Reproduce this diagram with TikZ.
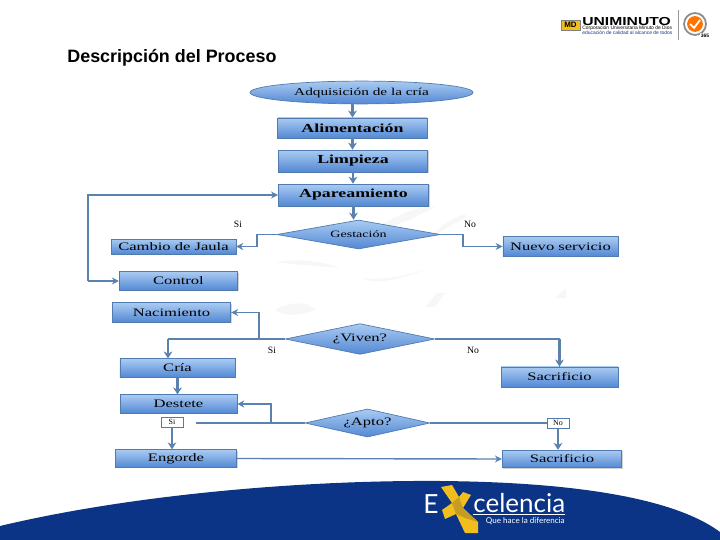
\documentclass[tikz,border=0pt]{standalone}
\usepackage{fontspec}
\setmainfont{Liberation Serif}
\newfontfamily\titlefont{Liberation Sans}
\newfontfamily\logowide[FakeStretch=1.35]{Liberation Sans}
\newfontfamily\widefont[FakeStretch=1.45]{Liberation Serif}
\newfontfamily\logofont{Lato}
\usetikzlibrary{arrows.meta, shapes.geometric, shadows}
\definecolor{boxtop}{HTML}{A9CBF2}
\definecolor{boxbot}{HTML}{5388D4}
\definecolor{boxline}{HTML}{4F7BAE}
\definecolor{flowline}{HTML}{5B82AE}
\definecolor{bandblue}{HTML}{0B3486}
\definecolor{logogold}{HTML}{F2BE1E}
\definecolor{logodark}{HTML}{C79C22}
\begin{document}
\begin{tikzpicture}[
		x=0.02cm, y=-0.02cm,
		b/.style = {rectangle,	draw=boxline,	top color=boxtop,	bottom color=boxbot,	thin, inner sep=0pt, drop shadow={shadow xshift=0.6pt, shadow yshift=-0.6pt, opacity=0.35}},
		d/.style = {diamond,	draw=boxline,	top color=boxtop,	bottom color=boxbot,	thin, inner sep=0pt, aspect=4},
		e/.style = {ellipse,	draw=boxline,	top color=boxtop,	bottom color=boxbot,	thin, inner sep=0pt},
		l/.style = {font=\widefont\fontsize{6.5}{7}\selectfont, inner sep=0pt},
		lb/.style = {font=\widefont\bfseries\fontsize{7}{8}\selectfont, inner sep=0pt},
		t/.style = {rectangle,	draw=boxline,	fill=white,	thin, inner sep=0pt, minimum width=12.5, minimum height=5.6},
		w/.style = {fill=black!3, draw=none},
		r/.style = {-{Stealth[length=4pt, width=4pt]}, draw=flowline, line width=0.8pt},
		p/.style = {draw=flowline, line width=0.8pt},
		s/.style = {-{Stealth[length=4pt, width=5pt]}, draw=flowline, line width=1.6pt},
		q/.style = {draw=flowline, line width=1.6pt}
		]
		\useasboundingbox (0, 0) rectangle (720, 540);
		
		%Watermark
		\fill[w]	(370, 232) .. controls (395, 215) and (420, 205) .. (435, 207) .. controls (420, 215) and (395, 228) .. (370, 232);
		\fill[w]	(430, 240) .. controls (450, 222) and (480, 215) .. (462, 215) .. controls (450, 220) and (435, 228) .. (430, 240);
		\fill[w]	(275, 262) .. controls (300, 258) and (325, 262) .. (340, 268) .. controls (320, 266) and (295, 265) .. (275, 262);
		\fill[w]	(362, 278) .. controls (375, 285) and (400, 280) .. (430, 268) .. controls (400, 278) and (380, 280) .. (362, 278);
		\fill[w]	(425, 307) -- (437, 293) -- (445, 293) -- (435, 307) -- cycle;
		\fill[w]	(555, 298) -- (566, 288) -- (566, 298) -- cycle;
		\fill[w]	(275, 310) .. controls (290, 300) and (310, 302) .. (315, 310) .. controls (300, 315) and (290, 318) .. (275, 310);
		
		%Band
		\fill[bandblue]	(0, 526) .. controls (130, 495) and (300, 480) .. (440, 481) .. controls (560, 482) and (670, 495) .. (720, 532) -- (720, 540) -- (0, 540) -- cycle;
		
		%Logo below
		\node[text=white, font=\logofont\fontsize{15}{15}\selectfont, inner sep=0pt]	(excE)	at	(431, 504)	{E};
		\fill[logogold]	(441, 487) -- (452, 485) -- (459, 497) -- (463, 492) -- (471, 495) -- (463, 508) -- (478, 522) -- (478, 533) -- (465, 533) -- (456, 514) -- (445, 519) -- (442, 510) -- (452, 503) -- cycle;
		\fill[logodark]	(452, 503) -- (459, 497) -- (463, 508) -- (478, 522) -- (465, 518) -- (456, 514) -- cycle;
		\node[text=white, font=\logofont\fontsize{14.8}{15}\selectfont, inner sep=0pt, anchor=west]	(excel)	at	(473, 503)	{celencia};
		\draw[white, line width=0.4pt]	(473, 514.5) -- (565, 514.5);
		\node[text=white, font=\logofont\fontsize{4.6}{5}\selectfont, inner sep=0pt, anchor=east]	(excq)	at	(565, 521)	{Que hace la diferencia};
		
		%Logo above
		\node[fill=logogold, draw=black!50, very thin, font=\titlefont\bfseries\fontsize{4.5}{5}\selectfont, inner sep=0pt, minimum width=10.8, minimum height=5.7]	(umd)	at	(570.5, 25)	{MD};
		\node[font=\logowide\bfseries\fontsize{6.6}{7}\selectfont, inner sep=0pt, anchor=west]	(uname)	at	(582, 21.5)	{UNIMINUTO};
		\node[font=\titlefont\fontsize{2.8}{3}\selectfont, inner sep=0pt, anchor=west]	(usub)	at	(582, 28)	{Corporación Universitaria Minuto de Dios};
		\node[text=bandblue, font=\titlefont\fontsize{2.8}{3}\selectfont, inner sep=0pt, anchor=west]	(ulem)	at	(582, 33)	{educación de calidad al alcance de todos};
		\draw[black!40]	(678, 10) -- (678, 40);
		\node[circle, draw=black!45, line width=1pt, inner sep=0pt, minimum size=12.5]	(uring)	at	(695, 24)	{};
		\node[circle, fill=orange!90!red, inner sep=0pt, minimum size=9]	(ucirc)	at	(695, 24)	{};
		\draw[white, line width=1pt]	(690, 24) -- (694, 28) -- (700, 20);
		\node[fill=white, font=\titlefont\bfseries\fontsize{2.8}{3}\selectfont, inner sep=0.4pt]	(uiso)	at	(705, 35.5)	{365};
		
		%Title
		\node[font=\titlefont\bfseries\fontsize{10.2}{12}\selectfont, inner sep=0pt, anchor=west]	(title)	at	(67, 58)	{Descripción del Proceso};
		
		%Nodes
		\node[e, minimum width=127, minimum height=13, font=\widefont\fontsize{6}{7}\selectfont]	(adq)	at	(361.5, 92.5)	{Adquisición de la cría};
		\node[b, lb, minimum width=85, minimum height=11.5]	(ali)	at	(352.5, 128)	{Alimentación};
		\node[b, lb, minimum width=85, minimum height=12.5]	(lim)	at	(353, 161)	{Limpieza};
		\node[b, lb, minimum width=85.5, minimum height=12.5]	(apa)	at	(353.5, 195)	{Apareamiento};
		\node[d, minimum width=93, minimum height=16.5, font=\widefont\fontsize{5.5}{6}\selectfont]	(ges)	at	(358.5, 234.5)	{Gestación};
		\node[b, l, minimum width=71, minimum height=8.5]	(cam)	at	(173.5, 246.5)	{Cambio de Jaula};
		\node[b, l, minimum width=67.5, minimum height=10.5]	(con)	at	(178.5, 281)	{Control};
		\node[b, l, minimum width=67.5, minimum height=11]	(nac)	at	(171.5, 312.5)	{Nacimiento};
		\node[b, l, minimum width=65.5, minimum height=11]	(nue)	at	(560.5, 246.5)	{Nuevo servicio};
		\node[d, minimum width=85, minimum height=17.5, font=\widefont\fontsize{6.5}{7}\selectfont]	(viv)	at	(360, 339)	{¿Viven?};
		\node[b, l, minimum width=65.5, minimum height=10.5]	(cri)	at	(177.5, 368)	{Cría};
		\node[b, l, minimum width=66.5, minimum height=10.5]	(des)	at	(178.5, 404)	{Destete};
		\node[b, l, minimum width=66.5, minimum height=11.5]	(sac1)	at	(559.5, 377)	{Sacrificio};
		\node[d, minimum width=71, minimum height=16, font=\widefont\fontsize{6.5}{7}\selectfont]	(apt)	at	(367.5, 423)	{¿Apto?};
		\node[t, font=\fontsize{4.5}{5}\selectfont]	(tsi)	at	(172, 422)	{Si};
		\node[t, font=\fontsize{4.5}{5}\selectfont]	(tno)	at	(558, 423)	{No};
		\node[b, l, minimum width=69, minimum height=10]	(eng)	at	(176, 458.5)	{Engorde};
		\node[b, l, minimum width=68, minimum height=10]	(sac2)	at	(562, 459)	{Sacrificio};
		
		\node[font=\fontsize{5.5}{6}\selectfont, inner sep=0pt]	(si1)	at	(238, 224)	{Si};
		\node[font=\fontsize{5.5}{6}\selectfont, inner sep=0pt]	(no1)	at	(470, 224)	{No};
		\node[font=\fontsize{5.5}{6}\selectfont, inner sep=0pt]	(si2)	at	(272, 350)	{Si};
		\node[font=\fontsize{5.5}{6}\selectfont, inner sep=0pt]	(no2)	at	(473, 350)	{No};
		
		\coordinate	(cloop)	at	(88, 240);
		\coordinate	(gl)	at	(257, 235);
		\coordinate	(gr)	at	(463, 235);
		\coordinate	(vb)	at	(259, 339);
		\coordinate	(vl)	at	(168, 339);
		\coordinate	(ab)	at	(271, 423);
		\coordinate	(aend)	at	(196, 423);
		
		%Lines
		\draw[s]	(ali.north |- adq.south)	to	(ali.north);
		\draw[s]	(ali.south)	to	(ali.south |- lim.north);
		\draw[s]	(lim.south)	to	(lim.south |- apa.north);
		\draw[s]	(apa.south)	to	(apa.south |- ges.north);
		
		\draw[r]	(ges.west)	-|	(gl)	|-	(cam.east);
		\draw[r]	(ges.east)	-|	(gr)	|-	(nue.west);
		\draw[q]	(gl)	to	(gl |- cam.east);
		\draw[q]	(gr)	to	(gr |- nue.west);
		
		\draw[r]	(cloop |- con.west)	to	(con.west);
		\draw[r]	(cloop |- con.west)	to	(cloop |- apa.west)	to	(apa.west);
		
		\draw[p]	(viv.west)	to	(vl);
		\draw[s]	(vl)	to	(vl |- cri.north);
		\draw[r]	(vb)	|-	(nac.east);
		\draw[q]	(vb)	to	(vb |- nac.east);
		\draw[p]	(viv.east)	-|	(sac1.north);
		\draw[s]	(viv.east -| sac1.north)	to	(sac1.north);
		
		\draw[s]	(cri.south)	to	(cri.south |- des.north);
		\draw[p]	(apt.west)	to	(aend);
		\draw[q]	(apt.west)	to	(ab);
		\draw[r]	(ab)	|-	(des.east);
		\draw[q]	(ab)	to	(ab |- des.east);
		\draw[s]	(tsi.south)	to	(tsi.south |- eng.north);
		\draw[p]	(apt.east)	to	(tno.west);
		\draw[s]	(tno.south)	to	(tno.south |- sac2.north);
		\draw[r]	(eng.east)	to	(sac2.west);
	\end{tikzpicture}
\end{document}
